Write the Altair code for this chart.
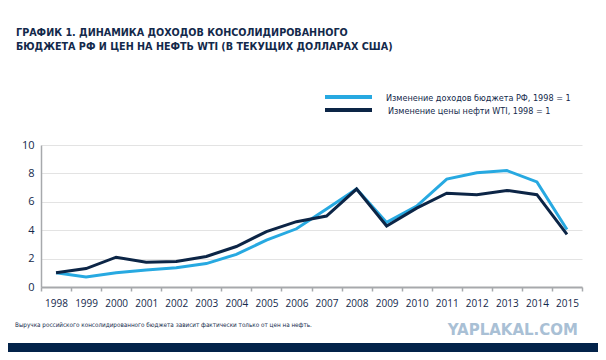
import altair as alt
import pandas as pd

years = list(range(1998, 2016))
budget = [1.0, 0.7, 1.0, 1.2, 1.35, 1.65, 2.3, 3.3, 4.1, 5.5, 6.9, 4.55, 5.7, 7.6, 8.05, 8.2, 7.4, 4.05]
oil = [1.0, 1.3, 2.1, 1.75, 1.8, 2.15, 2.85, 3.9, 4.6, 5.0, 6.9, 4.3, 5.55, 6.6, 6.5, 6.8, 6.5, 3.7]
series_names = ["Изменение доходов бюджета РФ, 1998 = 1", "Изменение цены нефти WTI, 1998 = 1"]
series_colors = ["#27a9e1", "#0c2546"]
title_lines = ["ГРАФИК 1. ДИНАМИКА ДОХОДОВ КОНСОЛИДИРОВАННОГО",
               "БЮДЖЕТА РФ И ЦЕН НА НЕФТЬ WTI (В ТЕКУЩИХ ДОЛЛАРАХ США)"]
footer = "Выручка российского консолидированного бюджета зависит фактически только от цен на нефть."
watermark = "YAPLAKAL.COM"
y_ticks = [0, 2, 4, 6, 8, 10]

NAVY = "#13294b"
NARROW = "Liberation Sans Narrow, DejaVu Sans Condensed, sans-serif"

rows = []
for i, y in enumerate(years):
    rows.append({"year": y, "value": budget[i], "series": series_names[0]})
    rows.append({"year": y, "value": oil[i], "series": series_names[1]})
df = pd.DataFrame(rows)

x_values = [y - 0.5 for y in years] + years + [years[-1] + 0.5]
x_values = sorted(x_values)

x_enc = alt.X("year:Q",
              scale=alt.Scale(domain=[years[0] - 0.5, years[-1] + 0.5], nice=False, zero=False),
              axis=alt.Axis(values=x_values, title=None, grid=False,
                            labelExpr="datum.value % 1 === 0 ? toString(datum.value) : ''",
                            tickOpacity={"condition": {"test": "datum.value % 1 !== 0", "value": 1}, "value": 0},
                            tickSize=4, tickWidth=1.5, tickColor="#a7a9ac",
                            domainColor="#a7a9ac", domainWidth=2,
                            labelFont="Open Sans", labelFontSize=10, labelColor=NAVY,
                            labelPadding=7, labelOverlap=False, labelFlush=False))
y_enc = alt.Y("value:Q",
              scale=alt.Scale(domain=[0, 10], nice=False),
              axis=alt.Axis(values=y_ticks, title=None, ticks=False,
                            gridColor="#e3e3e3", gridWidth=1,
                            domainColor="#a7a9ac", domainWidth=1.5,
                            labelFont="Open Sans", labelFontSize=11, labelColor=NAVY,
                            labelPadding=7))

lines = alt.Chart(df).mark_line(strokeWidth=3, strokeJoin="miter").encode(
    x=x_enc, y=y_enc,
    color=alt.Color("series:N", scale=alt.Scale(domain=series_names, range=series_colors), legend=None),
    order=alt.Order("series:N"),
)

one = pd.DataFrame({"a": [0]})

def text_layer(txt, x, y, size, font, weight="normal", color=NAVY, align="left"):
    return alt.Chart(one).mark_text(text=txt, align=align, baseline="alphabetic",
                                    font=font, fontSize=size, fontWeight=weight,
                                    color=color).encode(x=alt.value(x), y=alt.value(y))

layers = [lines]
layers.append(text_layer(title_lines[0], -25, -109, 10.7, NARROW, "bold"))
layers.append(text_layer(title_lines[1], -25, -95, 10.7, NARROW, "bold"))

leg_y = [-48, -35]
for i in range(2):
    layers.append(alt.Chart(one).mark_rule(strokeWidth=4, color=series_colors[i]).encode(
        x=alt.value(284), x2=alt.value(331), y=alt.value(leg_y[i])))
    layers.append(text_layer(series_names[i], 345 + 2 * i, leg_y[i] + 3.5, 9, NARROW))

layers.append(text_layer(footer, -26, 182, 6.3, NARROW))
layers.append(text_layer(watermark, 537, 190, 15, "DejaVu Sans", "bold", "#a9c0d5", "right"))
layers.append(alt.Chart(one).mark_rect(color="#03234a").encode(
    x=alt.value(-41), x2=alt.value(560), y=alt.value(198), y2=alt.value(215)))

chart = alt.layer(*layers).properties(
    width=541, height=142,
    autosize=alt.AutoSizeParams(type="none"),
    padding={"left": 33, "top": 137, "right": 16, "bottom": 65},
).configure_view(stroke=None)

chart.save("out.html", embed_options={"renderer": "svg", "actions": False})
